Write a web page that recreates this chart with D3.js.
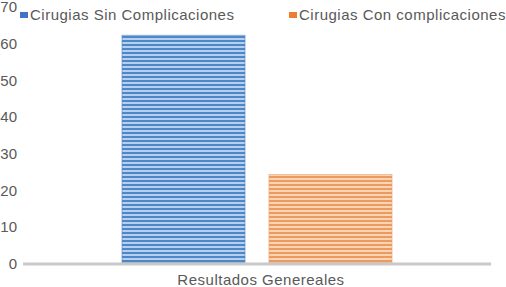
<!DOCTYPE html>
<html><head><meta charset="utf-8">
<script src="https://cdn.jsdelivr.net/npm/d3@7"></script>
<style>body{margin:0;background:#fff}svg{display:block;font-family:"Liberation Sans",Arial,sans-serif}</style>
</head><body><div id="c"></div>
<script>
const categories = ["Resultados Genereales"];
const seriesNames = ["Cirugias Sin Complicaciones", "Cirugias Con complicaciones"];
const seriesValues = [62, 24];
const yTicks = [0, 10, 20, 30, 40, 50, 60, 70];
const colors = [{dark:"#4f86c6", light:"#b4d0ee", edge:"#4472c4"}, {dark:"#ec9a62", light:"#fcd6b2", edge:"#ed7d31"}];

const W = 506, H = 287;
const svg = d3.select("#c").append("svg").attr("width", W).attr("height", H);
const defs = svg.append("defs");
colors.forEach((c, i) => {
  const p = defs.append("pattern").attr("id", "p" + i).attr("patternUnits", "userSpaceOnUse")
    .attr("width", 8).attr("height", 4);
  p.append("rect").attr("width", 8).attr("height", 4).attr("fill", c.light);
  p.append("rect").attr("y", 0).attr("width", 8).attr("height", 2).attr("fill", c.dark);
});

const y = d3.scaleLinear().domain([0, 70]).range([262.5, 6]);
const x0 = d3.scaleBand().domain(categories).range([23, 491]);
const x1 = d3.scaleBand().domain(seriesNames).range([122 - 23, 392 - 23]).paddingInner(0.163);

// axis labels
const yAxis = svg.append("g").attr("transform", "translate(17,1)")
  .call(d3.axisLeft(y).tickValues(yTicks).tickSize(0).tickPadding(0));
yAxis.select(".domain").remove();
yAxis.selectAll("text").attr("fill", "#595959").style("font-size", "15px")
  .style("font-family", "'Liberation Sans',Arial,sans-serif");

// bars
const g = svg.append("g");
seriesNames.forEach((s, i) => {
  const bx = x0(categories[0]) + x1(s);
  g.append("rect").attr("x", bx).attr("y", y(seriesValues[i]))
    .attr("width", x1.bandwidth()).attr("height", y(0) - y(seriesValues[i]))
    .attr("fill", `url(#p${i})`).attr("stroke", colors[i].dark).attr("stroke-opacity", 0.6).attr("stroke-width", 1);
});

// x axis line
svg.append("line").attr("x1", x0.range()[0]).attr("x2", x0.range()[1])
  .attr("y1", y(0) + 1.5).attr("y2", y(0) + 1.5).attr("stroke", "#c8c8c8").attr("stroke-width", 3);

// x label
svg.append("text").attr("x", x0(categories[0]) + x0.bandwidth() / 2 + 4).attr("y", 285)
  .attr("text-anchor", "middle").attr("fill", "#595959").style("font-size", "15px")
  .style("letter-spacing", "0.5px").text(categories[0]);

// legend
const legX = [20, 289];
seriesNames.forEach((s, i) => {
  const lg = svg.append("g").attr("transform", `translate(${legX[i]},0)`);
  lg.append("rect").attr("x", 0).attr("y", 12).attr("width", 8).attr("height", 6).attr("fill", colors[i].edge);
  lg.append("text").attr("x", 10).attr("y", 20).attr("fill", "#595959").style("font-size", "15px")
    .style("letter-spacing", "0.5px").text(s);
});
</script></body></html>
